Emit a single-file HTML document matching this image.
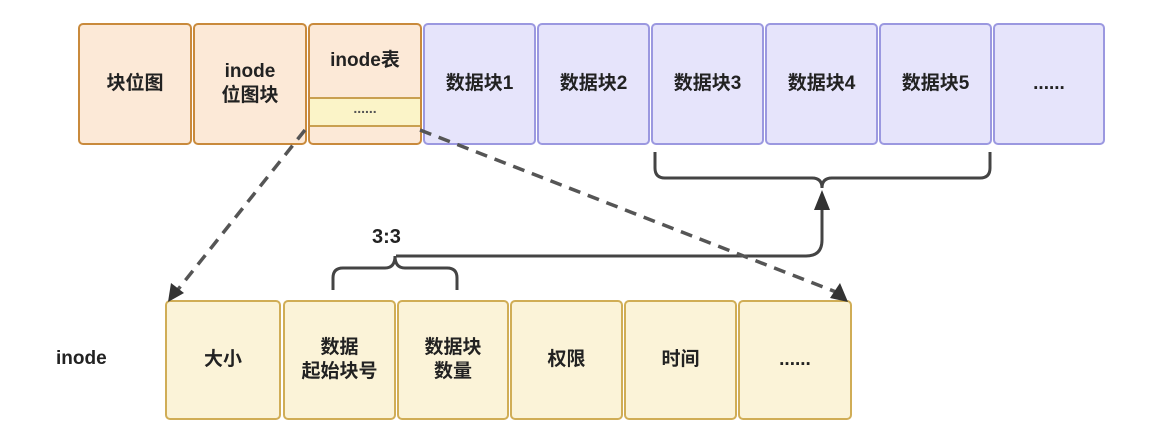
<!DOCTYPE html>
<html><head><meta charset="utf-8"><style>
body{margin:0;width:1174px;height:440px;background:#fff;overflow:hidden;position:relative;font-family:"Liberation Sans","Noto Sans CJK SC",sans-serif;}
.b{position:absolute;box-sizing:border-box;border-radius:5px;display:flex;align-items:center;justify-content:center;text-align:center;font-size:19px;color:#222;line-height:24px;font-weight:bold}
.o{background:#fce9d7;border:2.5px solid #c98a3c}
.p{background:#e6e4fb;border:2.5px solid #9b98e0}
.y{background:#fbf3d8;border:2.5px solid #d0ad56}
</style></head><body>
<div class="b o" style="left:78px;top:23px;width:114px;height:122px">块位图</div>
<div class="b o" style="left:193px;top:23px;width:114px;height:122px">inode<br>位图块</div>
<div class="b o" style="left:308px;top:23px;width:114px;height:122px;align-items:flex-start;padding-top:24px">inode表</div>
<div style="position:absolute;left:310px;top:97px;width:110px;height:30px;box-sizing:border-box;border-top:2.5px solid #c9a050;border-bottom:2.5px solid #c9a050;background:#fbf4c8;text-align:center;font-size:14px;line-height:18px;color:#555;font-weight:bold">......</div>
<div class="b p" style="left:423px;top:23px;width:113px;height:122px">数据块1</div>
<div class="b p" style="left:537px;top:23px;width:113px;height:122px">数据块2</div>
<div class="b p" style="left:651px;top:23px;width:113px;height:122px">数据块3</div>
<div class="b p" style="left:765px;top:23px;width:113px;height:122px">数据块4</div>
<div class="b p" style="left:879px;top:23px;width:113px;height:122px">数据块5</div>
<div class="b p" style="left:993px;top:23px;width:112px;height:122px">......</div>

<div class="b y" style="left:165px;top:300px;width:116px;height:120px">大小</div>
<div class="b y" style="left:283px;top:300px;width:113px;height:120px">数据<br>起始块号</div>
<div class="b y" style="left:397px;top:300px;width:112px;height:120px">数据块<br>数量</div>
<div class="b y" style="left:510px;top:300px;width:113px;height:120px">权限</div>
<div class="b y" style="left:624px;top:300px;width:113px;height:120px">时间</div>
<div class="b y" style="left:738px;top:300px;width:114px;height:120px">......</div>
<div style="position:absolute;left:56px;top:348px;font-size:19px;font-weight:bold;color:#222">inode</div>
<div style="position:absolute;left:372px;top:226px;font-size:20px;font-weight:bold;color:#222">3:3</div>
<svg style="position:absolute;left:0;top:0" width="1174" height="440">
<g fill="none" stroke="#444" stroke-width="3">
<path d="M655,152 V168 Q655,178 665,178 H812 Q822,178 822,188 Q822,178 832,178 H980 Q990,178 990,168 V152"/>
<path d="M822,200 V240 Q822,256 806,256 H396"/>
<path d="M333,290 V278 Q333,268 343,268 H385 Q395,268 395,256 Q395,268 405,268 H447 Q457,268 457,278 V290"/>
</g>
<path d="M814,210 L822,190 L830,210z" fill="#333"/>
<g stroke="#555" stroke-width="3.5" stroke-dasharray="12,8" fill="none">
<path d="M305,130 L176,292"/>
<path d="M420,130 L836,292"/>
</g>
<path d="M168,302 L171,283 L184,293z" fill="#333"/>
<path d="M848,302 L830,298 L840,283z" fill="#333"/>
</svg>
</body></html>
